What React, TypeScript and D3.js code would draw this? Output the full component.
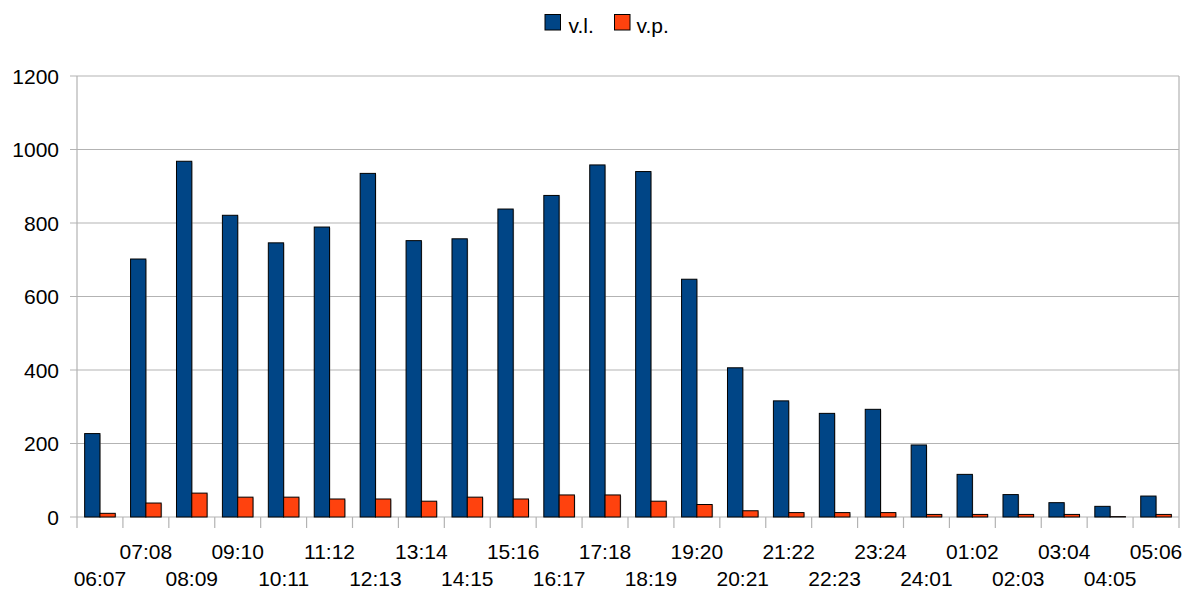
import React from "react";
import * as d3 from "d3";

const categories = ["06:07","07:08","08:09","09:10","10:11","11:12","12:13","13:14","14:15","15:16","16:17","17:18","18:19","19:20","20:21","21:22","22:23","23:24","24:01","01:02","02:03","03:04","04:05","05:06"];
const seriesNames = ["v.l.", "v.p."];
const vl = [227,702,968,821,746,789,935,752,757,838,875,958,940,647,406,316,282,293,196,116,61,39,29,57];
const vp = [10,38,65,54,54,49,49,43,54,49,60,60,43,34,17,12,12,12,7,7,7,7,1,7];
const yTicks = [0,200,400,600,800,1000,1200];
const colors = ["#004586", "#ff420e"];

export default function App() {
  const W = 1186, H = 590;
  const left = 77, right = 1179, top = 76, bottom = 517;
  const x = d3.scaleBand<string>().domain(categories).range([left, right]).padding(0);
  const inner = d3.scaleBand<string>().domain(seriesNames).range([0, x.bandwidth()]).paddingInner(0).paddingOuter(0.5);
  const y = d3.scaleLinear().domain([0, 1200]).range([bottom, top]);
  const font = "'Liberation Sans', Arial, sans-serif";
  const data = [vl, vp];
  const grid = "#b3b3b3";

  return (
    <svg width={W} height={H} style={{ position: "absolute", left: 0, top: 0, background: "#fff" }} fontFamily={font}>
      {yTicks.map((t) => (
        <g key={t}>
          <line x1={left - 7} x2={right} y1={y(t)} y2={y(t)} stroke={grid} strokeWidth={1.2} />
          <text x={59} y={y(t) + 7.5} textAnchor="end" fontSize={21} fill="#000">{t}</text>
        </g>
      ))}
      <line x1={left} x2={left} y1={top} y2={bottom} stroke={grid} strokeWidth={1.2} />
      <line x1={right} x2={right} y1={top} y2={bottom + 11} stroke={grid} strokeWidth={1.2} />
      {categories.map((c) => (
        <line key={"t" + c} x1={x(c)!} x2={x(c)!} y1={bottom} y2={bottom + 11} stroke={grid} strokeWidth={1.2} />
      ))}
      {categories.map((c, i) =>
        data.map((s, si) => {
          const bx = x(c)! + inner(seriesNames[si])!;
          const bw = inner.bandwidth();
          const by = y(s[i]);
          const bh = bottom - by;
          return (
            <g key={c + si}>
              <rect x={bx + 1} y={by + 1} width={bw} height={Math.max(0, bh - 1)} fill="#999" opacity={0.45} />
              <rect x={bx} y={by} width={bw} height={bh} fill={colors[si]} stroke="#000" strokeWidth={1} />
            </g>
          );
        })
      )}
      {categories.map((c, i) => (
        <text key={"l" + c} x={x(c)! + x.bandwidth() / 2} y={i % 2 === 0 ? 586 : 559} textAnchor="middle" fontSize={21} fill="#000">{c}</text>
      ))}
      <g>
        <rect x={545} y={14.5} width={15.5} height={15.5} fill={colors[0]} stroke="#000" strokeWidth={1} />
        <text x={568.5} y={33} fontSize={21} fill="#000">{seriesNames[0]}</text>
        <rect x={614.5} y={14.5} width={15.5} height={15.5} fill={colors[1]} stroke="#000" strokeWidth={1} />
        <text x={636.5} y={33} fontSize={21} fill="#000">{seriesNames[1]}</text>
      </g>
    </svg>
  );
}
